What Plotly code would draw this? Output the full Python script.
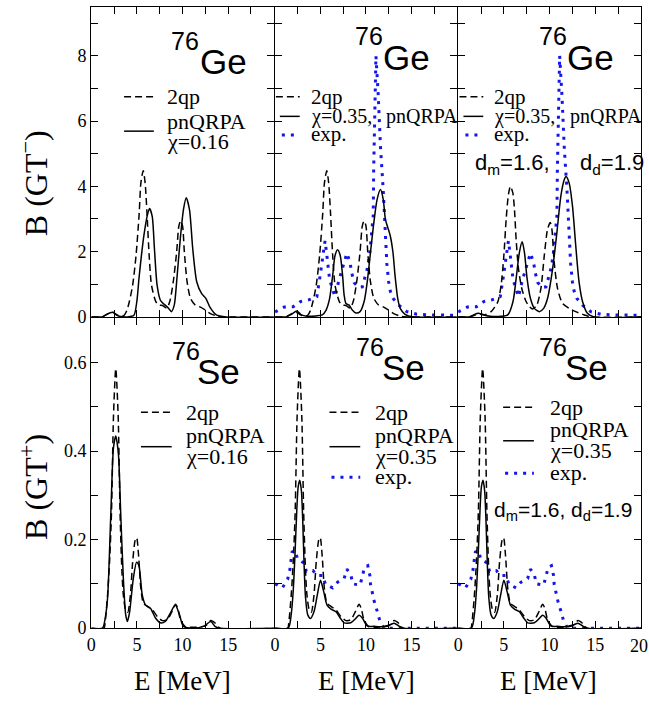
import plotly.graph_objects as go

W, H = 649, 719

# ---------------- data: B(GT-) strength in 76Ge ----------------
ge_2qp_E = [0, 1.2, 1.6, 2.0, 2.4, 2.8, 3.2, 3.6, 3.9, 4.17, 4.53, 4.9, 5.25, 5.43, 5.69, 5.9, 6.1,
             6.34, 6.6, 7.07, 7.43, 7.8, 8.26, 8.6, 8.98, 9.35, 9.6, 9.8, 10.0, 10.2, 10.5, 10.87,
             11.4, 11.96, 12.5, 13.0, 13.8, 14.5, 20]
ge_2qp_B = [0, 0, 0.06, 0.12, 0.13, 0.06, 0.02, 0.05, 0.2, 0.47, 0.97, 1.88, 3.19, 4.1, 4.48, 4.1, 3.19,
            1.88, 0.97, 0.47, 0.36, 0.35, 0.27, 0.47, 1.07, 1.98, 2.79, 2.94, 2.79, 1.98, 1.07, 0.57,
            0.36, 0.3, 0.21, 0.11, 0.02, 0, 0]

ge_q016_E = [0, 1.2, 1.6, 2.0, 2.4, 2.8, 3.2, 4.0, 4.67, 5.0, 5.22, 5.5, 5.76, 6.12, 6.38, 6.67, 6.92,
             7.21, 7.57, 7.85, 8.1, 8.48, 8.77, 9.09, 9.38, 9.75, 10.1, 10.4, 10.76, 11.12, 11.56,
             12.1, 12.57, 13.0, 13.7, 14.8, 20]
ge_q016_B = [0, 0, 0.06, 0.12, 0.14, 0.05, 0.01, 0, 0.05, 0.5, 1.17, 1.9, 2.49, 3.09, 3.32, 3.09, 2.08,
             0.97, 0.51, 0.42, 0.36, 0.26, 0.16, 0.36, 1.17, 2.39, 3.29, 3.65, 3.29, 2.08, 1.07,
             0.71, 0.56, 0.3, 0.06, 0, 0]

ge_q035_E = [0, 1.2, 1.8, 2.4, 2.9, 3.5, 4.5, 5.2, 5.6, 6.0, 6.34, 6.6, 6.88, 7.17, 7.43, 7.6, 7.8,
             8.15, 8.5, 8.88, 9.35, 9.8, 10.14, 10.5, 10.87, 11.23, 11.6, 11.9, 12.14, 12.4, 12.68,
             12.97, 13.2, 13.5, 13.77, 14.3, 15.2, 20]
ge_q035_B = [0, 0, 0.08, 0.18, 0.06, 0.02, 0.03, 0.06, 0.2, 0.56, 1.27, 1.88, 2.06, 1.88, 1.27, 0.67, 0.41,
             0.36, 0.21, 0.12, 0.16, 0.47, 1.07, 1.98, 2.89, 3.6, 3.9, 3.6, 2.99, 2.74, 2.48,
             1.98, 1.27, 0.56, 0.26, 0.08, 0, 0]

ge_2qp_d_E = [0, 1.2, 1.8, 2.5, 3.0, 3.6, 4.0, 4.35, 4.7, 5.0, 5.25, 5.5, 5.72, 5.98, 6.16, 6.34, 6.6,
              6.96, 7.43, 7.8, 8.15, 8.6, 9.05, 9.42, 9.78, 10.07, 10.25, 10.5, 10.87, 11.4, 12.14,
              12.86, 13.8, 14.5, 20]
ge_2qp_d_B = [0, 0, 0.05, 0.08, 0.07, 0.16, 0.3, 0.47, 0.97, 1.88, 2.99, 3.75, 4.0, 3.8, 3.29, 2.38, 1.47,
              0.87, 0.47, 0.31, 0.24, 0.36, 0.87, 1.88, 2.69, 2.89, 2.69, 1.68, 0.87, 0.42, 0.26,
              0.16, 0.06, 0, 0]

ge_q035_d_E = [0, 1.2, 1.7, 2.2, 2.8, 3.5, 4.7, 5.43, 6.0, 6.34, 6.7, 7.0, 7.25, 7.54, 7.9, 8.33, 8.88,
               9.35, 9.78, 10.33, 10.8, 11.23, 11.6, 11.8, 12.14, 12.5, 12.86, 13.22, 13.6, 14.13,
               14.86, 20]
ge_q035_d_B = [0, 0, 0.06, 0.11, 0.06, 0.02, 0.02, 0.06, 0.47, 1.17, 1.98, 2.3, 1.98, 1.17, 0.57, 0.26, 0.16,
               0.26, 0.57, 1.47, 2.59, 3.7, 4.2, 4.3, 4.1, 3.4, 2.18, 1.07, 0.47, 0.11,
               0, 0]

ge_exp_E = [0, 1.0, 2.0, 2.8, 3.7, 4.6, 4.9, 5.1, 5.3, 5.5, 5.65, 5.8, 6.0, 6.3, 6.6, 7.0, 7.5, 7.9,
            8.26, 8.4, 8.7, 9.2, 9.6, 9.86, 10.14, 10.4, 10.58, 10.8, 10.85, 10.95, 11.1, 11.35,
            11.6, 11.9, 12.17, 12.3, 12.5, 12.68, 12.97, 13.6, 14.5, 15.6, 17, 20]
ge_exp_B = [0.15, 0.3, 0.31, 0.47, 0.52, 0.62, 1.15, 1.6, 2.0, 2.33, 2.0, 1.55, 1.15, 0.87, 0.62, 1.1, 1.6, 1.95,
            1.66, 1.39, 1.05, 0.9, 0.92, 1.2, 1.47, 1.9, 2.5, 3.1, 4.5, 6.2, 8.0, 6.8,
            5.2, 3.9, 2.41, 1.63, 1.07, 0.79, 0.57, 0.36, 0.16, 0.08, 0.06, 0.05]

# ---------------- data: B(GT+) strength in 76Se ----------------
se_2qp_E = [0, 1.4, 1.5, 1.78, 2.0, 2.21, 2.43, 2.68, 2.94, 3.15, 3.35, 3.51, 3.75, 3.99, 4.28, 4.53,
            4.82, 4.97, 5.18, 5.43, 5.72, 6.16, 6.7, 7.25, 7.8, 8.33, 8.88, 9.24, 9.49, 9.78, 10.33,
            11.23, 12.5, 13.1, 13.6, 14.1, 20]
se_2qp_B = [0, 0, 0.01, 0.075, 0.15, 0.26, 0.48, 0.586, 0.48, 0.26, 0.13, 0.075, 0.042, 0.036, 0.074, 0.149,
            0.2, 0.204, 0.164, 0.089, 0.056, 0.049, 0.041, 0.026, 0.017, 0.019, 0.039, 0.054, 0.044, 0.019, 0.003,
            0.002, 0.005, 0.017, 0.011, 0, 0]

se_q016_E = [0, 1.23, 1.5, 1.78, 2.14, 2.43, 2.68, 2.97, 3.22, 3.51, 3.77, 3.95, 4.2, 4.6, 4.96, 5.22,
             5.58, 5.94, 6.48, 7.03, 7.57, 8.1, 8.66, 9.2, 9.67, 10.1, 11.2, 12.3, 13.1, 13.55, 14.1, 20]
se_q016_B = [0, 0, 0.02, 0.068, 0.26, 0.408, 0.434, 0.393, 0.26, 0.112, 0.03, 0.015, 0.037, 0.112, 0.149, 0.141,
             0.075, 0.052, 0.045, 0.023, 0.012, 0.015, 0.034, 0.052, 0.03, 0.004, 0, 0.004, 0.015, 0.004, 0, 0]

se_q035_E = [0, 1.45, 1.8, 2.0, 2.2, 2.4, 2.55, 2.72, 2.9, 3.05, 3.2, 3.35, 3.6, 3.9, 4.28, 4.64, 5.0,
             5.36, 5.72, 6.16, 6.7, 7.17, 7.6, 8.33, 8.88, 9.24, 9.6, 10.14, 10.87, 11.6, 12.68,
             13.1, 13.6, 14.1, 20]
se_q035_B = [0, 0, 0.035, 0.085, 0.17, 0.27, 0.32, 0.334, 0.31, 0.24, 0.14, 0.07, 0.03, 0.022, 0.037, 0.074, 0.108,
             0.082, 0.052, 0.043, 0.037, 0.023, 0.012, 0.012, 0.022, 0.029, 0.023, 0.005, 0.004, 0.003, 0.008,
             0.011, 0.005, 0, 0]

se_exp_E = [0, 0.8, 1.38, 1.63, 1.74, 1.88, 2.25, 2.46, 3.19, 3.44, 4.17, 4.64, 5.25, 5.54, 6.34, 6.88,
            7.6, 7.9, 8.33, 8.55, 9.35, 9.6, 9.86, 10.2, 10.43, 10.5, 10.7, 10.94, 11.23, 11.52, 11.96, 20]
se_exp_B = [0.1, 0.091, 0.11, 0.132, 0.15, 0.172, 0.175, 0.156, 0.147, 0.128, 0.13, 0.119, 0.119, 0.099, 0.091, 0.104,
            0.112, 0.133, 0.121, 0.1, 0.097, 0.118, 0.138, 0.141, 0.119, 0.099, 0.078, 0.058, 0.039, 0.017, 0, 0]

# tick labels (the 20 MeV label of the last panel sits on the page edge and is
# written as a separate text so that it does not widen the page)
x_ticks = [0, 5, 10, 15]
x_edge_label = "20"
y_ticks_top = [0, 2, 4, 6, 8]
y_ticks_bot = [0, 0.2, 0.4, 0.6]

# ---------------- layout geometry (pixels) ----------------
LW = 1.3                      # frame line width
X_EDGES = [87, 271.5, 456, 641]
Y_TOP, Y_MID, Y_BOT = 7, 322, 637


def px(x):
    return x / W


def py(y):
    return 1 - y / H


SERIF = "Liberation Serif"
SANS = "Liberation Sans"
BLUE = "rgb(20,20,235)"
DASH = "7px,4px"
DOT = "3px,6px"

fig = go.Figure()

panels = [
    (0, 0, [(ge_2qp_E, ge_2qp_B, "dash"), (ge_q016_E, ge_q016_B, "solid")]),
    (0, 1, [(ge_exp_E, ge_exp_B, "exp"), (ge_2qp_E, ge_2qp_B, "dash"), (ge_q035_E, ge_q035_B, "solid")]),
    (0, 2, [(ge_exp_E, ge_exp_B, "exp"), (ge_2qp_d_E, ge_2qp_d_B, "dash"), (ge_q035_d_E, ge_q035_d_B, "solid")]),
    (1, 0, [(se_2qp_E, se_2qp_B, "dash"), (se_q016_E, se_q016_B, "solid")]),
    (1, 1, [(se_exp_E, se_exp_B, "exp"), (se_2qp_E, se_2qp_B, "dash"), (se_q035_E, se_q035_B, "solid")]),
    (1, 2, [(se_exp_E, se_exp_B, "exp"), (se_2qp_E, se_2qp_B, "dash"), (se_q035_E, se_q035_B, "solid")]),
]

axis_common = dict(
    showline=True, linecolor="black", linewidth=LW, mirror="ticks",
    ticks="inside", ticklen=7, tickwidth=1.2, tickcolor="black",
    showgrid=False, zeroline=False,
    tickfont=dict(family=SERIF, size=18, color="black"),
)

for i, (row, col, series) in enumerate(panels):
    n = i + 1
    xa = "x" if n == 1 else f"x{n}"
    ya = "y" if n == 1 else f"y{n}"
    for E, B, kind in series:
        if kind == "exp":
            line = dict(color=BLUE, width=3, dash=DOT, shape="linear")
        elif kind == "dash":
            line = dict(color="black", width=1.5, dash=DASH, shape="spline", smoothing=0.7)
        else:
            line = dict(color="black", width=1.5, shape="spline", smoothing=0.7)
        fig.add_trace(go.Scatter(x=E, y=B, mode="lines", line=line, xaxis=xa, yaxis=ya,
                                 showlegend=False, hoverinfo="skip"))

    # neighbouring frames share one line: offset the domains by the line width
    x0 = X_EDGES[col] + (LW / 2 if col > 0 else 0)
    x1 = X_EDGES[col + 1] - (LW / 2 if col < 2 else 0)
    if row == 0:
        y0, y1 = Y_TOP, Y_MID - LW / 2
    else:
        y0, y1 = Y_MID + LW / 2, Y_BOT
    xdom = [px(x0), px(x1)]
    ydom = [py(y1), py(y0)]
    xkey = "xaxis" if n == 1 else f"xaxis{n}"
    ykey = "yaxis" if n == 1 else f"yaxis{n}"
    fig.layout[xkey] = dict(
        axis_common, domain=xdom, range=[0, 20], anchor=ya,
        tickvals=x_ticks, showticklabels=(row == 1),
        minor=dict(dtick=2.5, tick0=0, ticks="inside", ticklen=7, tickwidth=1.2, tickcolor="black"),
    )
    if row == 0:
        fig.layout[ykey] = dict(
            axis_common, domain=ydom, range=[0, 9.5], anchor=xa,
            tickvals=y_ticks_top, showticklabels=(col == 0),
            minor=dict(dtick=1, tick0=0, ticks="inside", ticklen=7, tickwidth=1.2, tickcolor="black"),
        )
    else:
        fig.layout[ykey] = dict(
            axis_common, domain=ydom, range=[0, 0.7], anchor=xa,
            tickvals=y_ticks_bot, showticklabels=(col == 0),
            minor=dict(dtick=0.1, tick0=0, ticks="inside", ticklen=7, tickwidth=1.2, tickcolor="black"),
        )

annotations = []
shapes = []


def text(x, y, s, size, family=SERIF, anchor="left", angle=0):
    annotations.append(dict(
        xref="paper", yref="paper", x=px(x), y=py(y), text=s, showarrow=False,
        xanchor=anchor, yanchor="middle", textangle=angle, borderpad=0,
        font=dict(family=family, size=size, color="black"),
    ))


def sample(x0, x1, y, kind):
    if kind == "exp":
        ln = dict(color=BLUE, width=3, dash=DOT)
    elif kind == "dash":
        ln = dict(color="black", width=1.5, dash=DASH)
    else:
        ln = dict(color="black", width=1.5)
    shapes.append(dict(type="line", xref="paper", yref="paper",
                       x0=px(x0), x1=px(x1), y0=py(y), y1=py(y), line=ln))


# 20 MeV label at the right end of the last bottom axis
text(649, 655, x_edge_label, 18, anchor="right")

# nucleus labels
for x76, y76, xel, yel, el in [
    (166, 42, 196, 62, "Ge"), (352, 37, 380, 58, "Ge"), (537, 37, 565, 58, "Ge"),
    (167, 356, 192, 377, "Se"), (353, 352, 379, 373, "Se"), (537, 352, 563, 373, "Se"),
]:
    text(x76, y76, "76", 25, SANS)
    text(xel, yel, el, 35, SANS)

# legends, top row
sample(120, 150, 98, "dash"); text(162, 98, "2qp", 22)
sample(120, 150, 133, "solid"); text(162, 123, "pnQRPA", 22); text(162, 144, "χ=0.16", 22)

sample(273, 297, 98, "dash"); text(307, 98, "2qp", 21)
sample(277, 297, 118, "solid"); text(307, 118, "χ=0.35,", 20); text(383, 118, "pnQRPA", 20)
sample(279, 297, 137, "exp"); text(307, 136, "exp.", 21)

sample(458, 482, 98, "dash"); text(492, 98, "2qp", 21)
sample(462, 482, 118, "solid"); text(492, 118, "χ=0.35,", 20); text(568, 118, "pnQRPA", 20)
sample(464, 482, 137, "exp"); text(492, 136, "exp.", 21)
text(473, 166, "d<sub>m</sub>=1.6,", 22, SANS); text(578, 166, "d<sub>d</sub>=1.9", 22, SANS)

# legends, bottom row
sample(137, 168, 418, "dash"); text(181, 418, "2qp", 22)
sample(137, 168, 453, "solid"); text(181, 442, "pnQRPA", 22); text(181, 463, "χ=0.16", 22)

sample(327, 358, 418, "dash"); text(372, 418, "2qp", 22)
sample(327, 358, 453, "solid"); text(372, 442, "pnQRPA", 22); text(372, 463, "χ=0.35", 22)
sample(329, 358, 484, "exp"); text(372, 483, "exp.", 22)

sample(502, 533, 413, "dash"); text(548, 413, "2qp", 22)
sample(502, 533, 447, "solid"); text(548, 436, "pnQRPA", 22); text(548, 457, "χ=0.35", 22)
sample(504, 533, 480, "exp"); text(548, 479, "exp.", 22)
text(492, 518, "d<sub>m</sub>=1.6, d<sub>d</sub>=1.9", 21, SANS)

# axis titles
text(29, 186, "B (GT<sup>−</sup>)", 32, anchor="center", angle=-90)
text(29, 494, "B (GT<sup>+</sup>)", 32, anchor="center", angle=-90)
for xc in (179, 364, 548):
    text(xc, 691, "E [MeV]", 27, anchor="center")

fig.update_layout(
    width=W, height=H, autosize=False,
    margin=dict(l=0, r=0, t=0, b=0),
    paper_bgcolor="white", plot_bgcolor="white",
    annotations=annotations, shapes=shapes,
    showlegend=False,
)

fig.write_html("out.html")
